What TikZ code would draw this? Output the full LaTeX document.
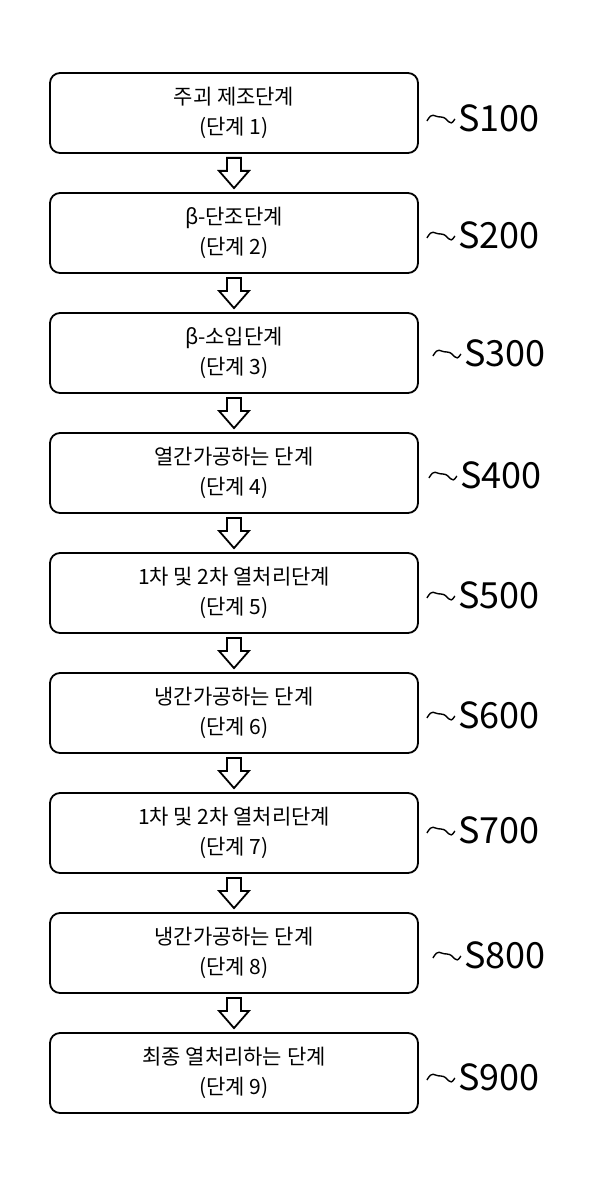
\documentclass[tikz,border=0pt]{standalone}
\usepackage{fontspec}
\setmainfont{Noto Sans CJK KR}
\usetikzlibrary{positioning,calc}

\begin{document}
\begin{tikzpicture}[x=1pt,y=-1pt,
  stepbox/.style={draw, line width=1.8pt, rounded corners=10pt, minimum width=368pt,
    minimum height=80pt, align=center, font=\fontsize{21}{30}\selectfont},
  steplabel/.style={anchor=west, font=\fontsize{36}{36}\selectfont, inner sep=0pt},
]
  \useasboundingbox (0,0) rectangle (600,1201);

  \foreach \i/\txt/\lab/\dy/\dx in {%
    1/주괴 제조단계/S100/5/0,
    2/β-단조단계/S200/2/0,
    3/β-소입단계/S300/0/6,
    4/열간가공하는 단계/S400/2/2,
    5/1차 및 2차 열처리단계/S500/2/0,
    6/냉간가공하는 단계/S600/2/0,
    7/1차 및 2차 열처리단계/S700/-3/0,
    8/냉간가공하는 단계/S800/2/6,
    9/최종 열처리하는 단계/S900/4/0} {
    \node[stepbox] (s\i) at (234, {73+120*(\i-1)+40}) {\txt\\(단계 \i)};
    \coordinate (t\i) at ($(s\i.east)+(8+\dx,{\dy+3})$);
    % tilde and step number
    \draw[line width=1.4pt] (t\i) .. controls +(6,-10) and +(-8,0) .. +(14,-4)
      .. controls +(8,0) and +(-6,10) .. +(28,-2);
    \node[steplabel] (l\i) at ($(t\i)+(31,-3)$) {\lab};
  }

  % hollow arrows
  \foreach \i [evaluate=\i as \j using int(\i+1)] in {1,...,8} {
    \draw[line width=1.8pt] ($(s\i.south)+(-7,4)$) -- ($(s\i.south)+(7,4)$)
      -- ($(s\i.south)+(7,17)$) -- ($(s\i.south)+(15,17)$)
      -- ($(s\j.north)+(0,-4)$) -- ($(s\i.south)+(-15,17)$)
      -- ($(s\i.south)+(-7,17)$) -- cycle;
  }
\end{tikzpicture}
\end{document}
